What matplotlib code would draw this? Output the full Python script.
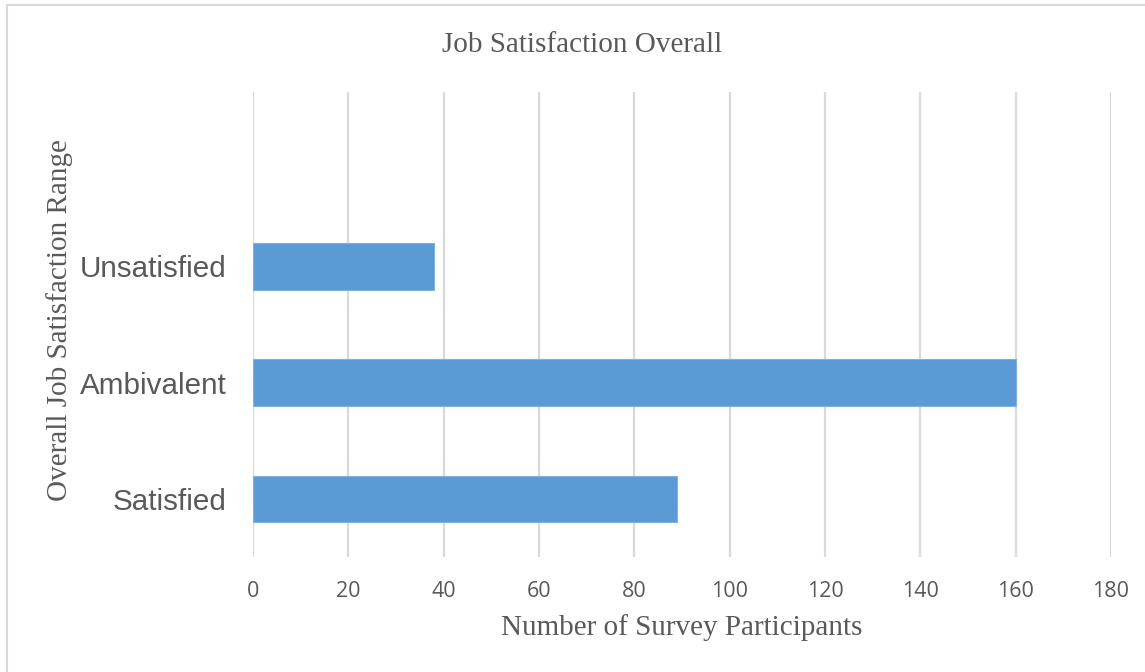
import matplotlib.pyplot as plt
from matplotlib.lines import Line2D

categories = ['Satisfied', 'Ambivalent', 'Unsatisfied']
participants = [89, 160, 38]
xticks = [0, 20, 40, 60, 80, 100, 120, 140, 160, 180]

W, H = 1145, 672
fig = plt.figure(figsize=(W / 100, H / 100), dpi=100)

# axes box in pixels: left 253, right 1111, top 92, bottom 557
ax = fig.add_axes([253 / W, 1 - 557 / H, (1111 - 253) / W, (557 - 92) / H])

grey = '#595959'
serif = ['Liberation Serif', 'DejaVu Serif']

ax.barh(range(len(categories)), participants, height=0.4,
        color='#5B9BD5', edgecolor='#7FB0DE', linewidth=0.8, zorder=3)

ax.set_xlim(0, 180)
ax.set_ylim(-0.5, 3.5)  # empty slot above the last category, as in the original
ax.set_xticks(xticks)
ax.set_xticklabels([str(t) for t in xticks], fontfamily='Open Sans',
                   fontsize=15.5, color=grey)
ax.set_yticks(range(len(categories)))
ax.set_yticklabels(categories, fontfamily='Liberation Sans', fontsize=21.3,
                   color=grey)
ax.tick_params(axis='both', length=0)
ax.tick_params(axis='x', pad=17)
ax.tick_params(axis='y', pad=19)

ax.grid(axis='x', color='#D9D9D9', linewidth=1.6, zorder=0)
for s in ax.spines.values():
    s.set_visible(False)

fig.text(582 / W, 1 - 45 / H, 'Job Satisfaction Overall', ha='center',
         va='center', fontfamily=serif, fontsize=21, color=grey)
fig.text(682 / W, 1 - 628 / H, 'Number of Survey Participants', ha='center',
         va='center', fontfamily=serif, fontsize=21, color=grey)
fig.text(60 / W, 1 - 320 / H, 'Overall Job Satisfaction Range', ha='center',
         va='center', rotation=90, fontfamily=serif, fontsize=21, color=grey)

# chart frame (left and top edges visible)
fig.add_artist(Line2D([7 / W, 7 / W], [0, 1 - 5 / H], color='#D9D9D9',
                      linewidth=1.5))
fig.add_artist(Line2D([7 / W, 1], [1 - 5 / H, 1 - 5 / H], color='#D9D9D9',
                      linewidth=1.5))

fig.savefig('out.png', dpi=100)
